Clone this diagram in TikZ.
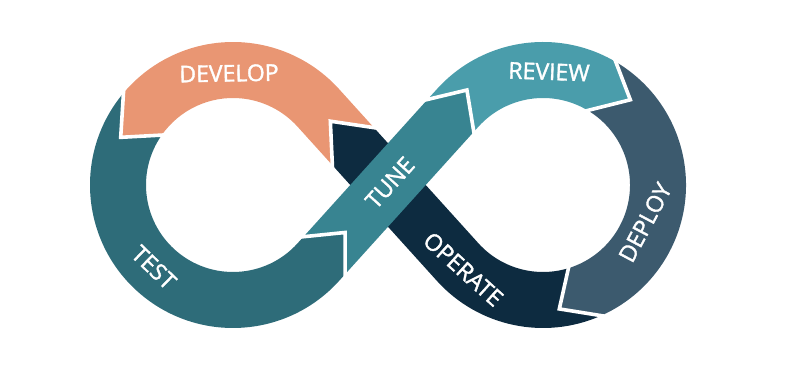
\documentclass[tikz,border=0pt]{standalone}
\usepackage{fontspec}
\setmainfont{Open Sans}
\newfontfamily\lblfont{Open Sans}[FakeBold=1.6]
\usetikzlibrary{calc}
\definecolor{cdev}{HTML}{E99673}
\definecolor{ctest}{HTML}{2E6C79}
\definecolor{ctune}{HTML}{388491}
\definecolor{crev}{HTML}{4A9DAB}
\definecolor{cdep}{HTML}{3C5A6E}
\definecolor{cop}{HTML}{0D2B40}
\begin{document}
\begin{tikzpicture}[x=1pt,y=1pt,
  sep/.style={draw=white,line width=3.6pt,line join=miter,shorten <=-3pt,shorten >=-3pt},
  lbl/.style={text=white,inner sep=0pt,font=\lblfont\fontsize{23}{23}\selectfont}]
\useasboundingbox (0,0) rectangle (792,374);
\coordinate (L) at (233,189);
\coordinate (R) at (543,189);
\coordinate (C) at (388,189);
\coordinate (u) at (47.9:1);
\coordinate (N) at (-42.1:1);
\coordinate (v) at (132.1:1);
\coordinate (M) at (42.1:1);
% junctions
\coordinate (J1o) at ($(C)+52*(v)+28*(M)$);
\coordinate (J1t) at ($(C)+86*(v)$);
\coordinate (J1i) at ($(C)+52*(v)-28*(M)$);
\coordinate (J2o) at ($(L)+(140:143)$);
\coordinate (J2t) at ($(L)+(157:122)$);
\coordinate (J2i) at ($(L)+(145:87)$);
\coordinate (J3o) at ($(C)-95*(u)+28*(N)$);
\coordinate (J3t) at ($(C)-64*(u)$);
\coordinate (J3i) at ($(C)-95*(u)-28*(N)$);
\coordinate (J4o) at ($(C)+90*(u)-28*(N)$);
\coordinate (J4t) at ($(R)+(128.7:121.7)$);
\coordinate (J4i) at ($(C)+97*(u)+28*(N)$);
\coordinate (J5o) at ($(R)+(59.4:143)$);
\coordinate (J5t) at ($(R)+(44.3:122)$);
\coordinate (J5i) at ($(R)+(59:87)$);
\coordinate (J6o) at ($(R)+(-66:143)$);
\coordinate (J6t) at ($(R)+(-82.5:125)$);
\coordinate (J6i) at ($(R)+(-73:87)$);
% tangent edge points
\coordinate (T3o) at ($(L)+(42.1:143)$);
\coordinate (T3i) at ($(L)+(42.1:87)$);
\coordinate (T1o) at ($(L)+(-42.1:143)$);
\coordinate (T1i) at ($(L)+(-42.1:87)$);
\coordinate (T2o) at ($(R)+(137.9:143)$);
\coordinate (T2i) at ($(R)+(137.9:87)$);
\coordinate (T4o) at ($(R)+(222.1:143)$);
\coordinate (T4i) at ($(R)+(222.1:87)$);
% OPERATE
\fill[cop] (J6o) arc[start angle=-66,end angle=-137.9,radius=143] -- (J1i) -- (J1t) -- (J1o) -- (T4i) arc[start angle=222.1,end angle=287,radius=87] -- (J6t) -- cycle;
% DEVELOP
\fill[cdev] (J1o) -- (T3o) arc[start angle=42.1,end angle=140,radius=143] -- (J2t) -- (J2i) arc[start angle=145,end angle=42.1,radius=87] -- (J1i) -- (J1t) -- cycle;
% TEST
\fill[ctest] (J2o) arc[start angle=140,end angle=317.9,radius=143] -- (J3o) -- (J3t) -- (J3i) -- (T1i) arc[start angle=317.9,end angle=145,radius=87] -- (J2t) -- cycle;
% REVIEW
\fill[crev] (J4o) -- (T2o) arc[start angle=137.9,end angle=59.4,radius=143] -- (J5t) -- (J5i) arc[start angle=59,end angle=137.9,radius=87] -- (J4i) -- (J4t) -- cycle;
% DEPLOY
\fill[cdep] (J5o) arc[start angle=59.4,end angle=-66,radius=143] -- (J6t) -- (J6i) arc[start angle=-73,end angle=59,radius=87] -- (J5t) -- cycle;
\draw[sep] (J1o) -- (J1t) -- (J1i);
\draw[sep] (J2o) -- (J2t) -- (J2i);
\draw[sep] (J5o) -- (J5t) -- (J5i);
\draw[sep] (J6o) -- (J6t) -- (J6i);
% TUNE
\fill[ctune] (J3o) -- (J4i) -- (J4t) -- (J4o) -- (J3i) -- (J3t) -- cycle;
\draw[sep] (J3o) -- (J3t) -- (J3i);
\draw[sep] (J4o) -- (J4t) -- (J4i);
% labels
\node[lbl,rotate=1] (tdev) at (229,300.7) {DEVELOP};
\node[lbl,rotate=-2] (trev) at (549,302.3) {REVIEW};
\node[lbl,rotate=-44] (ttest) at (154,106.5) {TEST};
\node[lbl,rotate=47.9] (ttune) at ($(C)+3*(u)$) {TUNE};
\node[lbl,rotate=-42] (top) at (463.3,104.8) {OPERATE};
\node[lbl,rotate=62] (tdep) at (645,151.5) {DEPLOY};
\end{tikzpicture}
\end{document}
